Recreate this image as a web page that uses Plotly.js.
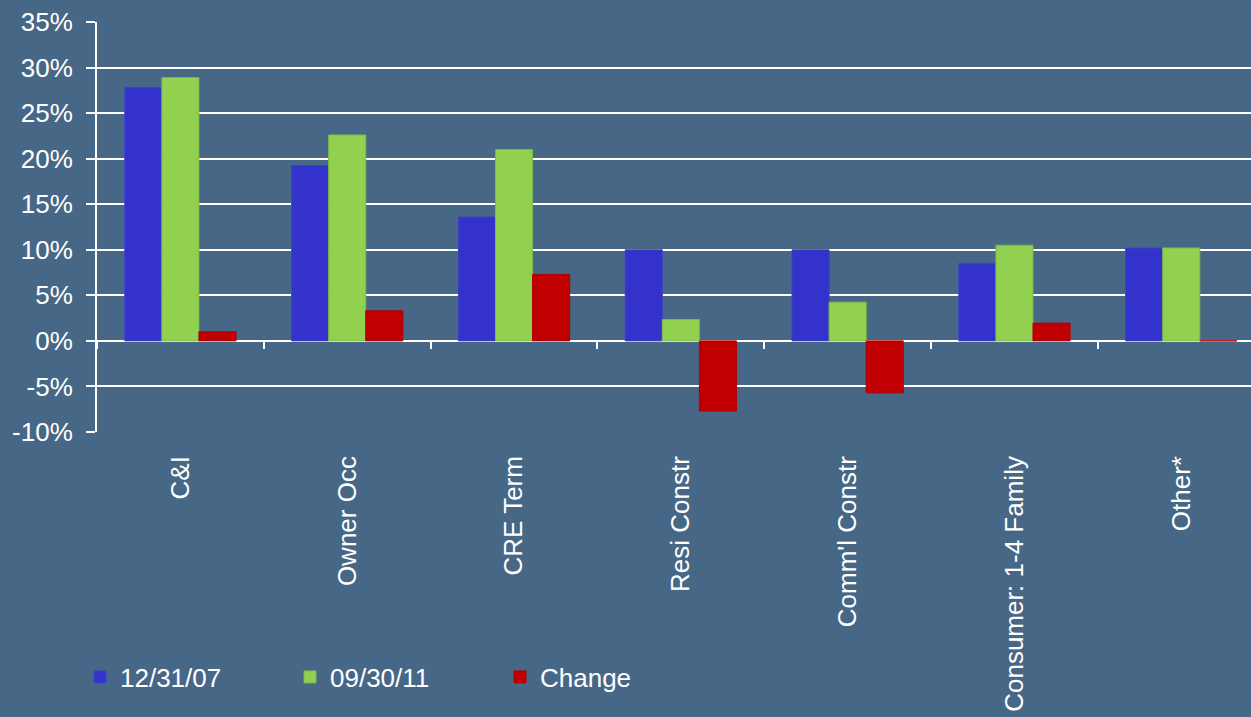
<!DOCTYPE html>
<html>
<head>
<meta charset="utf-8">
<script src="https://cdn.plot.ly/plotly-3.0.1.min.js"></script>
<style>
  html, body { margin: 0; padding: 0; background: #476786; }
  #chart { width: 1251px; height: 717px; }
</style>
</head>
<body>
<div id="chart"></div>
<script>
const categories = ["C&I", "Owner Occ", "CRE Term", "Resi Constr", "Comm'l Constr", "Consumer: 1-4 Family", "Other*"];
const seriesNames = ["12/31/07", "09/30/11", "Change"];
const values0711 = [27.8, 19.25, 13.6, 10.0, 10.0, 8.5, 10.2];
const values0911 = [28.9, 22.6, 21.0, 2.35, 4.25, 10.5, 10.2];
const valuesChange = [1.0, 3.3, 7.3, -7.7, -5.7, 1.95, 0.0];
const yTickVals = [-10, -5, 0, 5, 10, 15, 20, 25, 30, 35];
const yTickText = ["-10%", "-5%", "0%", "5%", "10%", "15%", "20%", "25%", "30%", "35%"];

const FONT = '"Liberation Sans", Arial, Helvetica, sans-serif';
const colors = ["#3333CC", "#92D050", "#C00000"];
const lineColors = ["#4040c8", "#7fb848", "#b00000"];
const series = [values0711, values0911, valuesChange];

const traces = series.map((vals, i) => ({
  type: "bar",
  name: seriesNames[i],
  x: categories,
  y: vals,
  marker: { color: colors[i], line: { color: lineColors[i], width: 1 } },
  hoverinfo: "none"
}));

const layout = {
  width: 1251,
  height: 717,
  paper_bgcolor: "#476786",
  plot_bgcolor: "#476786",
  margin: { l: 97, r: 0, t: 22, b: 285 },
  barmode: "group",
  bargap: 0.333,
  bargroupgap: 0,
  font: { family: FONT, size: 26, color: "#ffffff" },
  showlegend: true,
  legend: {
    orientation: "h",
    xref: "container",
    yref: "container",
    x: 80 / 1251,
    y: 40 / 717,
    xanchor: "left",
    yanchor: "middle",
    bgcolor: "rgba(0,0,0,0)",
    font: { family: FONT, size: 26, color: "#ffffff" },
    entrywidthmode: "pixels",
    entrywidth: 165,
    itemwidth: 30,
    traceorder: "normal"
  },
  xaxis: {
    type: "category",
    range: [-0.5, 6.418],
    anchor: "free",
    position: 10 / 45,
    tickson: "boundaries",
    ticks: "outside",
    ticklen: 7,
    tickwidth: 2,
    tickcolor: "#ffffff",
    showgrid: false,
    showline: false,
    zeroline: false,
    tickangle: -90,
    tickfont: { family: FONT, size: 26, color: "#ffffff" },
    ticklabelstandoff: 109,
    automargin: false,
    fixedrange: true
  },
  yaxis: {
    range: [-10, 35],
    tickmode: "array",
    tickvals: yTickVals,
    ticktext: yTickText,
    showgrid: true,
    gridcolor: "#ffffff",
    gridwidth: 2,
    zeroline: true,
    zerolinecolor: "#ffffff",
    zerolinewidth: 2,
    showline: true,
    linecolor: "#ffffff",
    linewidth: 2,
    ticks: "outside",
    ticklen: 9,
    tickwidth: 2,
    tickcolor: "#ffffff",
    tickfont: { family: FONT, size: 26, color: "#ffffff" },
    ticklabelstandoff: 8,
    automargin: false,
    fixedrange: true
  }
};

Plotly.newPlot("chart", traces, layout, { displayModeBar: false, staticPlot: true });
</script>
</body>
</html>
